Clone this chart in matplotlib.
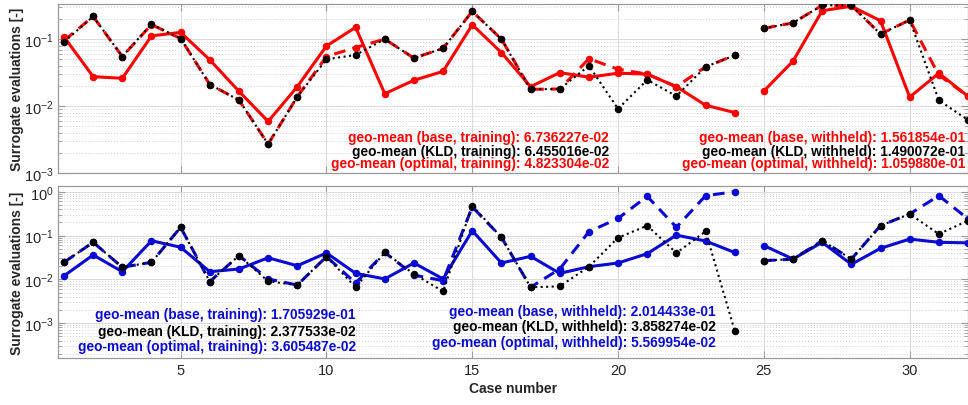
import numpy as np
import matplotlib
matplotlib.use("Agg")
import matplotlib.pyplot as plt
from matplotlib.ticker import LogLocator, NullFormatter

plt.rcParams['font.family'] = ['Liberation Sans', 'DejaVu Sans']
plt.rcParams['mathtext.fontset'] = 'custom'
plt.rcParams['mathtext.rm'] = 'Liberation Sans'
plt.rcParams['mathtext.it'] = 'Liberation Sans:italic'
plt.rcParams['mathtext.bf'] = 'Liberation Sans:bold'

cases = np.arange(1, 33)

# Top panel (red)
top_optimal = [0.108, 0.0275, 0.026, 0.112, 0.126, 0.049, 0.0166, 0.0059, 0.0195, 0.079,
               0.15, 0.0153, 0.0243, 0.033, 0.164, 0.063, 0.0195, 0.0316, 0.027, 0.031,
               0.030, 0.0195, 0.0103, 0.0080,
               0.0168, 0.047, 0.266, 0.31, 0.188, 0.0136, 0.031, 0.014]
top_base = [0.095, 0.218, 0.055, 0.165, 0.102, 0.021, 0.0123, 0.0027, 0.0138, 0.055,
            0.075, 0.1, 0.052, 0.073, 0.26, 0.1, 0.0178, 0.018, 0.051, 0.0355,
            0.030, 0.0195, 0.0385, 0.0575,
            0.145, 0.175, 0.32, 0.32, 0.119, 0.193, 0.029, 0.014]
top_kld = [0.091, 0.218, 0.055, 0.168, 0.102, 0.021, 0.0123, 0.0027, 0.0138, 0.05,
           0.058, 0.1, 0.052, 0.073, 0.26, 0.1, 0.0178, 0.018, 0.04, 0.0091,
           0.0246, 0.0141, 0.0385, 0.0575,
           0.145, 0.175, 0.32, 0.32, 0.119, 0.193, 0.0122, 0.0062]

# Bottom panel (blue)
bot_optimal = [0.012, 0.036, 0.0149, 0.076, 0.054, 0.0149, 0.0172, 0.031, 0.0204, 0.04,
               0.0137, 0.0102, 0.0236, 0.0102, 0.129, 0.0236, 0.0335, 0.0137, 0.0194, 0.0236,
               0.0385, 0.102, 0.075, 0.041,
               0.059, 0.029, 0.07, 0.022, 0.051, 0.083, 0.07, 0.068]
bot_base = [0.0245, 0.07, 0.0188, 0.0245, 0.154, 0.0089, 0.0347, 0.0102, 0.0074, 0.033,
            0.0082, 0.041, 0.0125, 0.0093, 0.45, 0.091, 0.0066, 0.0172, 0.122, 0.246,
            0.785, 0.154, 0.81, 1.0,
            0.0266, 0.029, 0.076, 0.029, 0.168, 0.31, 0.81, 0.24]
bot_kld = [0.0245, 0.07, 0.0188, 0.0245, 0.154, 0.0089, 0.0347, 0.009, 0.0074, 0.033,
           0.0066, 0.041, 0.0132, 0.0053, 0.48, 0.091, 0.0066, 0.0069, 0.0194, 0.089,
           0.168, 0.04, 0.124, 0.00067,
           0.0266, 0.029, 0.076, 0.029, 0.168, 0.31, 0.108, 0.219]

top_texts = [["geo-mean (base, training): 6.736227e-02",
              "geo-mean (KLD, training): 6.455016e-02",
              "geo-mean (optimal, training): 4.823304e-02"],
             ["geo-mean (base, withheld): 1.561854e-01",
              "geo-mean (KLD, withheld): 1.490072e-01",
              "geo-mean (optimal, withheld): 1.059880e-01"]]
bot_texts = [["geo-mean (base, training): 1.705929e-01",
              "geo-mean (KLD, training): 2.377533e-02",
              "geo-mean (optimal, training): 3.605487e-02"],
             ["geo-mean (base, withheld): 2.014433e-01",
              "geo-mean (KLD, withheld): 3.858274e-02",
              "geo-mean (optimal, withheld): 5.569954e-02"]]

RED = '#ff0000'
BLUE = '#0a0ad2'
SPINE = '#9a9a9a'
TXT = '#262626'

fig = plt.figure(figsize=(9.68, 4.06), dpi=100)
ax1 = fig.add_axes([0.0604, 0.5714, 0.9396, 0.4163])
ax2 = fig.add_axes([0.0604, 0.1158, 0.9396, 0.4229])

segments = [slice(0, 24), slice(24, 32)]


def draw(ax, opt, base, kld, color):
    opt = np.array(opt); base = np.array(base); kld = np.array(kld)
    for s in segments:
        ax.plot(cases[s], opt[s], '-', color=color, lw=2.2, marker='o', ms=4.4, zorder=3)
        ax.plot(cases[s], base[s], '--', color=color, lw=2.2, marker='o', ms=4.4,
                dashes=(3.8, 2.4), zorder=4)
        ax.plot(cases[s], kld[s], ':', color='black', lw=1.5, marker='o', ms=4.4, zorder=5)


draw(ax1, top_optimal, top_base, top_kld, RED)
draw(ax2, bot_optimal, bot_base, bot_kld, BLUE)

for ax in (ax1, ax2):
    ax.set_yscale('log')
    ax.set_xlim(0.81, 32.0)
    ax.set_xticks([5, 10, 15, 20, 25, 30])
    ax.yaxis.set_major_locator(LogLocator(base=10, numticks=10))
    ax.yaxis.set_minor_locator(LogLocator(base=10, subs=np.arange(2, 10), numticks=10))
    ax.yaxis.set_minor_formatter(NullFormatter())
    ax.grid(True, which='major', color='#dcdcdc', lw=0.8, ls='-')
    ax.grid(True, which='minor', axis='y', color='#d0d0d0', lw=0.7, ls=(0, (1, 2)))
    ax.set_axisbelow(True)
    for sp in ax.spines.values():
        sp.set_color(SPINE)
        sp.set_linewidth(0.9)
    ax.tick_params(which='both', direction='in', top=True, right=True, color=SPINE,
                   labelcolor=TXT, labelsize=10.5)
    ax.tick_params(which='major', length=5)
    ax.tick_params(which='minor', length=3)
    ax.set_ylabel('Surrogate evaluations [-]', fontsize=10, fontweight='bold', color=TXT)

ax1.set_ylim(1e-3, 0.335)
ax2.set_ylim(1.6e-4, 1.33)
ax1.tick_params(axis='x', labelbottom=False)
ax2.set_xlabel('Case number', fontsize=10, fontweight='bold', color=TXT, labelpad=3)
ax1.yaxis.set_label_coords(-0.038, 0.5)
ax2.yaxis.set_label_coords(-0.038, 0.5)


def put_texts(ax, texts, xr, ys, color):
    for t, y, c in zip(texts, ys, [color, 'black', color]):
        ax.text(xr, y, t, transform=ax.transAxes, ha='right', va='center',
                fontsize=9.9, fontweight='bold', color=c, zorder=10)


put_texts(ax1, top_texts[0], 0.6053, [0.211, 0.132, 0.057], RED)
put_texts(ax1, top_texts[1], 0.9967, [0.211, 0.132, 0.057], RED)
put_texts(ax2, bot_texts[0], 0.327, [0.256, 0.159, 0.0716], BLUE)
put_texts(ax2, bot_texts[1], 0.7229, [0.2755, 0.188, 0.0914], BLUE)

fig.savefig('out.png', dpi=100)
